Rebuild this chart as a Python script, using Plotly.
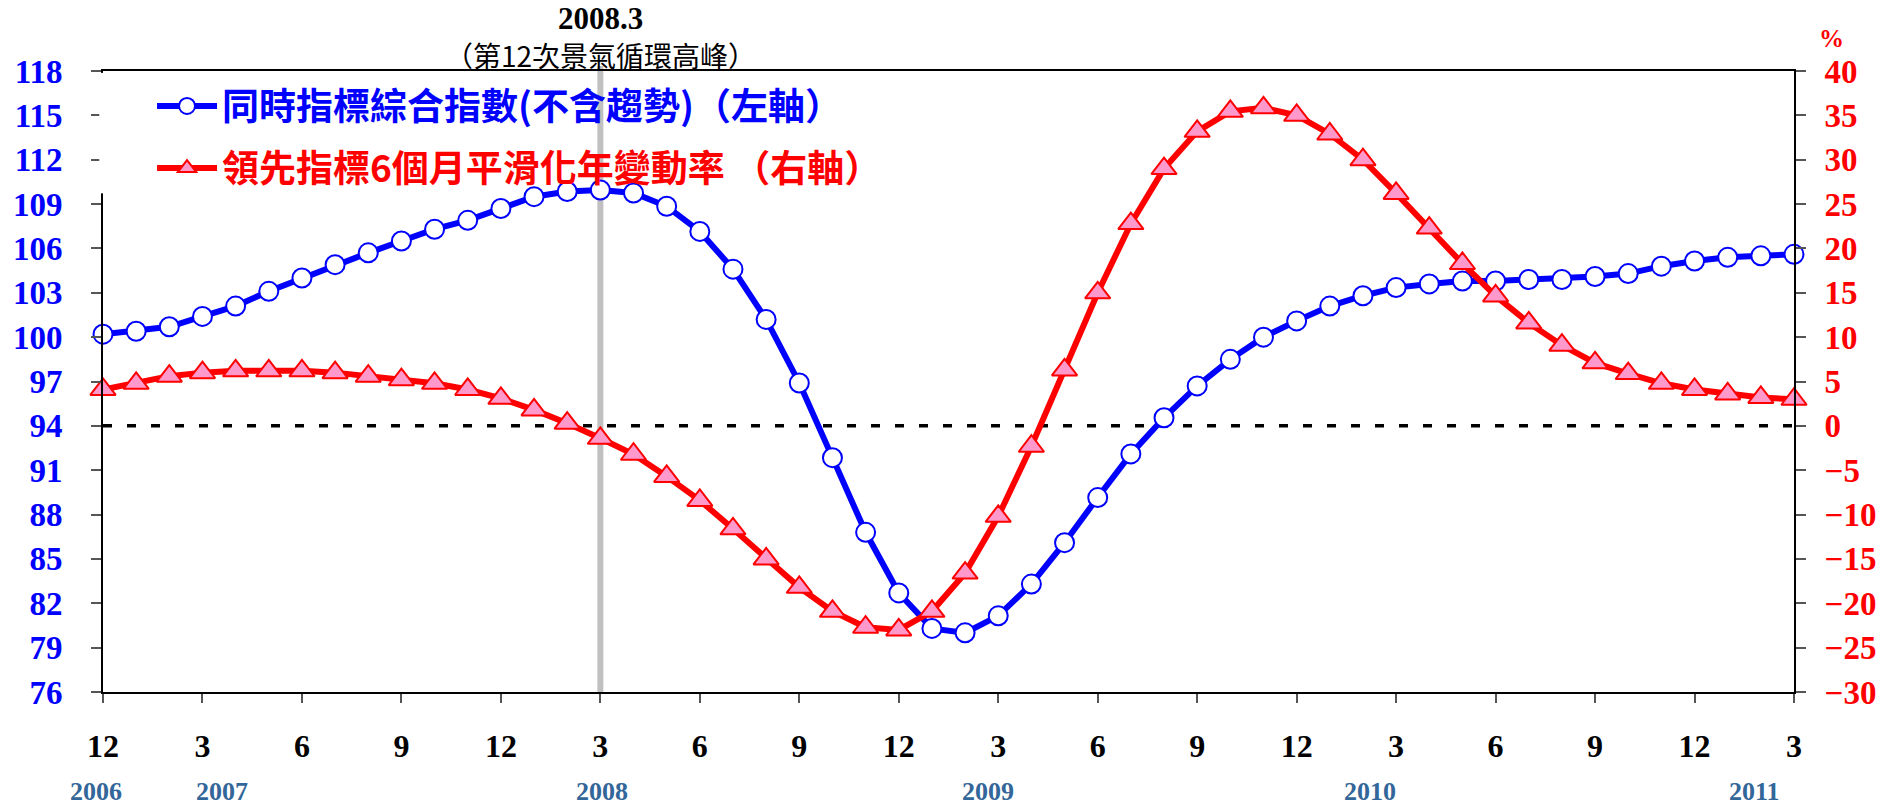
import pandas as pd
import plotly.graph_objects as go

# ---- data ----
periods = [p.strftime("%Y-%m") for p in pd.period_range("2006-12", "2011-03", freq="M")]

coincident_index = [
    100.2, 100.4, 100.7, 101.4, 102.1, 103.1, 104.0, 104.9, 105.7, 106.5, 107.3, 107.9,
    108.7, 109.5, 109.85, 109.95, 109.75, 108.85, 107.15, 104.6, 101.2, 96.9, 91.85, 86.8,
    82.7, 80.3, 80.0, 81.15, 83.3, 86.1, 89.15, 92.1, 94.55, 96.7, 98.5, 100.0,
    101.1, 102.1, 102.8, 103.35, 103.6, 103.8, 103.8, 103.9, 103.9, 104.1, 104.3, 104.8,
    105.15, 105.4, 105.5, 105.6,
]
leading_growth = [
    4.1, 4.8, 5.6, 6.0, 6.2, 6.2, 6.2, 6.0, 5.6, 5.2, 4.8, 4.1,
    3.1, 1.8, 0.3, -1.4, -3.2, -5.7, -8.4, -11.6, -15.0, -18.2, -20.9, -22.7,
    -23.0, -20.9, -16.6, -10.2, -2.3, 6.3, 15.0, 22.8, 29.0, 33.2, 35.45, 35.85,
    35.0, 32.9, 30.0, 26.2, 22.3, 18.3, 14.65, 11.6, 9.1, 7.1, 5.9, 4.8,
    4.1, 3.6, 3.2, 3.0,
]

series_names = [
    "同時指標綜合指數(不含趨勢)（左軸）",
    "領先指標6個月平滑化年變動率 （右軸）",
]
left_ticks = list(range(76, 119, 3))
right_ticks = list(range(-30, 41, 5))
peak_period = "2008-03"
peak_title = "2008.3"
peak_note = "（第12次景氣循環高峰）"
year_labels = ["2006", "2007", "2008", "2009", "2010", "2011"]
year_label_pos = [0.0, 3.58, 15.05, 26.7, 38.2, 49.8]
year_label_shift = [-7, 0, 0, 0, 0, 0]

# ---- styling ----
BLUE = "#0000FF"
RED = "#FF0000"
PINK = "#FF99CC"
YEAR_COL = "#336699"
SERIF = "Liberation Serif, Times New Roman, serif"
CJK = "Noto Sans CJK TC, Noto Sans CJK SC, sans-serif"

x_idx = list(range(len(periods)))
tick_idx = x_idx[::3]
tick_text = [str(int(periods[i][5:])) for i in tick_idx]
peak_i = periods.index(peak_period)

fig = go.Figure()
fig.add_trace(go.Scatter(
    x=x_idx, y=coincident_index, name=series_names[0], legend="legend",
    mode="lines+markers", cliponaxis=False,
    line=dict(color=BLUE, width=6),
    marker=dict(symbol="circle", size=19, color="white", line=dict(color=BLUE, width=2)),
))
fig.add_trace(go.Scatter(
    x=x_idx, y=leading_growth, name=series_names[1], legend="legend2", yaxis="y2",
    mode="lines+markers", cliponaxis=False,
    line=dict(color=RED, width=6),
    marker=dict(symbol="triangle-up", size=22, color=PINK, line=dict(color=RED, width=2)),
))

# peak vertical line
fig.add_shape(type="line", xref="x", yref="paper", x0=peak_i, x1=peak_i, y0=0, y1=1.008,
              line=dict(color="#C0C0C0", width=6), layer="below")
# zero line on right axis
fig.add_shape(type="line", xref="paper", yref="y2", x0=0, x1=1, y0=0, y1=0,
              line=dict(color="black", width=3.5, dash="9px,15px"), layer="below")
# gap in the left axis line behind the legend (as in the reference)
fig.add_shape(type="rect", xref="paper", yref="paper", x0=-0.0022, x1=0.0022, y0=0.803, y1=0.997,
              line=dict(width=0), fillcolor="white", layer="above")

fig.add_annotation(x=peak_i, xref="x", y=1.0848, yref="paper", text=peak_title,
                   xanchor="center", yanchor="middle", showarrow=False,
                   font=dict(family=SERIF, size=31, color="black", weight="bold"))
fig.add_annotation(x=peak_i, xref="x", y=1.0253, yref="paper", text=peak_note,
                   xanchor="center", yanchor="middle", showarrow=False,
                   font=dict(family=CJK, size=28, color="black"))
fig.add_annotation(x=1.0224, xref="paper", y=1.0526, yref="paper", text="%",
                   xanchor="center", yanchor="middle", showarrow=False,
                   font=dict(family=SERIF, size=25, color=RED, weight="bold"))
for lbl, pos, sh in zip(year_labels, year_label_pos, year_label_shift):
    fig.add_annotation(x=pos, xref="x", y=-0.161, yref="paper", text=lbl, showarrow=False,
                       xanchor="center", yanchor="middle", xshift=sh,
                       font=dict(family=SERIF, size=26, color=YEAR_COL, weight="bold"))

legend_common = dict(xanchor="left", yanchor="middle", bgcolor="rgba(0,0,0,0)",
                     itemwidth=60)
fig.update_layout(
    width=1888, height=806,
    margin=dict(l=103, r=91, t=71, b=114),
    paper_bgcolor="white", plot_bgcolor="white",
    showlegend=True,
    legend=dict(x=0.029, y=0.943, font=dict(family=CJK, size=37, color=BLUE, weight="bold"),
                **legend_common),
    legend2=dict(x=0.029, y=0.843, font=dict(family=CJK, size=37, color=RED, weight="bold"),
                 **legend_common),
    xaxis=dict(range=[0, len(periods) - 1], tickmode="array", tickvals=tick_idx, ticktext=tick_text,
               showline=True, linecolor="black", linewidth=2, mirror=True,
               ticks="outside", ticklen=9, tickcolor="#555555", tickwidth=1.5,
               ticklabelstandoff=16, showgrid=False, zeroline=False,
               tickfont=dict(family=SERIF, size=32, color="black", weight="bold")),
    yaxis=dict(range=[76, 118], tickmode="array", tickvals=left_ticks,
               showline=True, linecolor="black", linewidth=2,
               ticks="outside", ticklen=10, tickcolor="#555555", tickwidth=1.5,
               ticklabelstandoff=22, showgrid=False, zeroline=False,
               tickfont=dict(family=SERIF, size=33, color=BLUE, weight="bold")),
    yaxis2=dict(range=[-30, 40], tickmode="array", tickvals=right_ticks, overlaying="y", side="right",
                showline=True, linecolor="black", linewidth=2,
                ticks="outside", ticklen=10, tickcolor="#555555", tickwidth=1.5,
                ticklabelstandoff=12, showgrid=False, zeroline=False,
                tickfont=dict(family=SERIF, size=33, color=RED, weight="bold")),
)

# remove the default page margin so the 1888x806 figure fills the window exactly
page_fix = "document.body.style.margin='0px'; document.body.style.overflow='hidden';"
fig.write_html("out.html", post_script=page_fix, config={"displayModeBar": False})
